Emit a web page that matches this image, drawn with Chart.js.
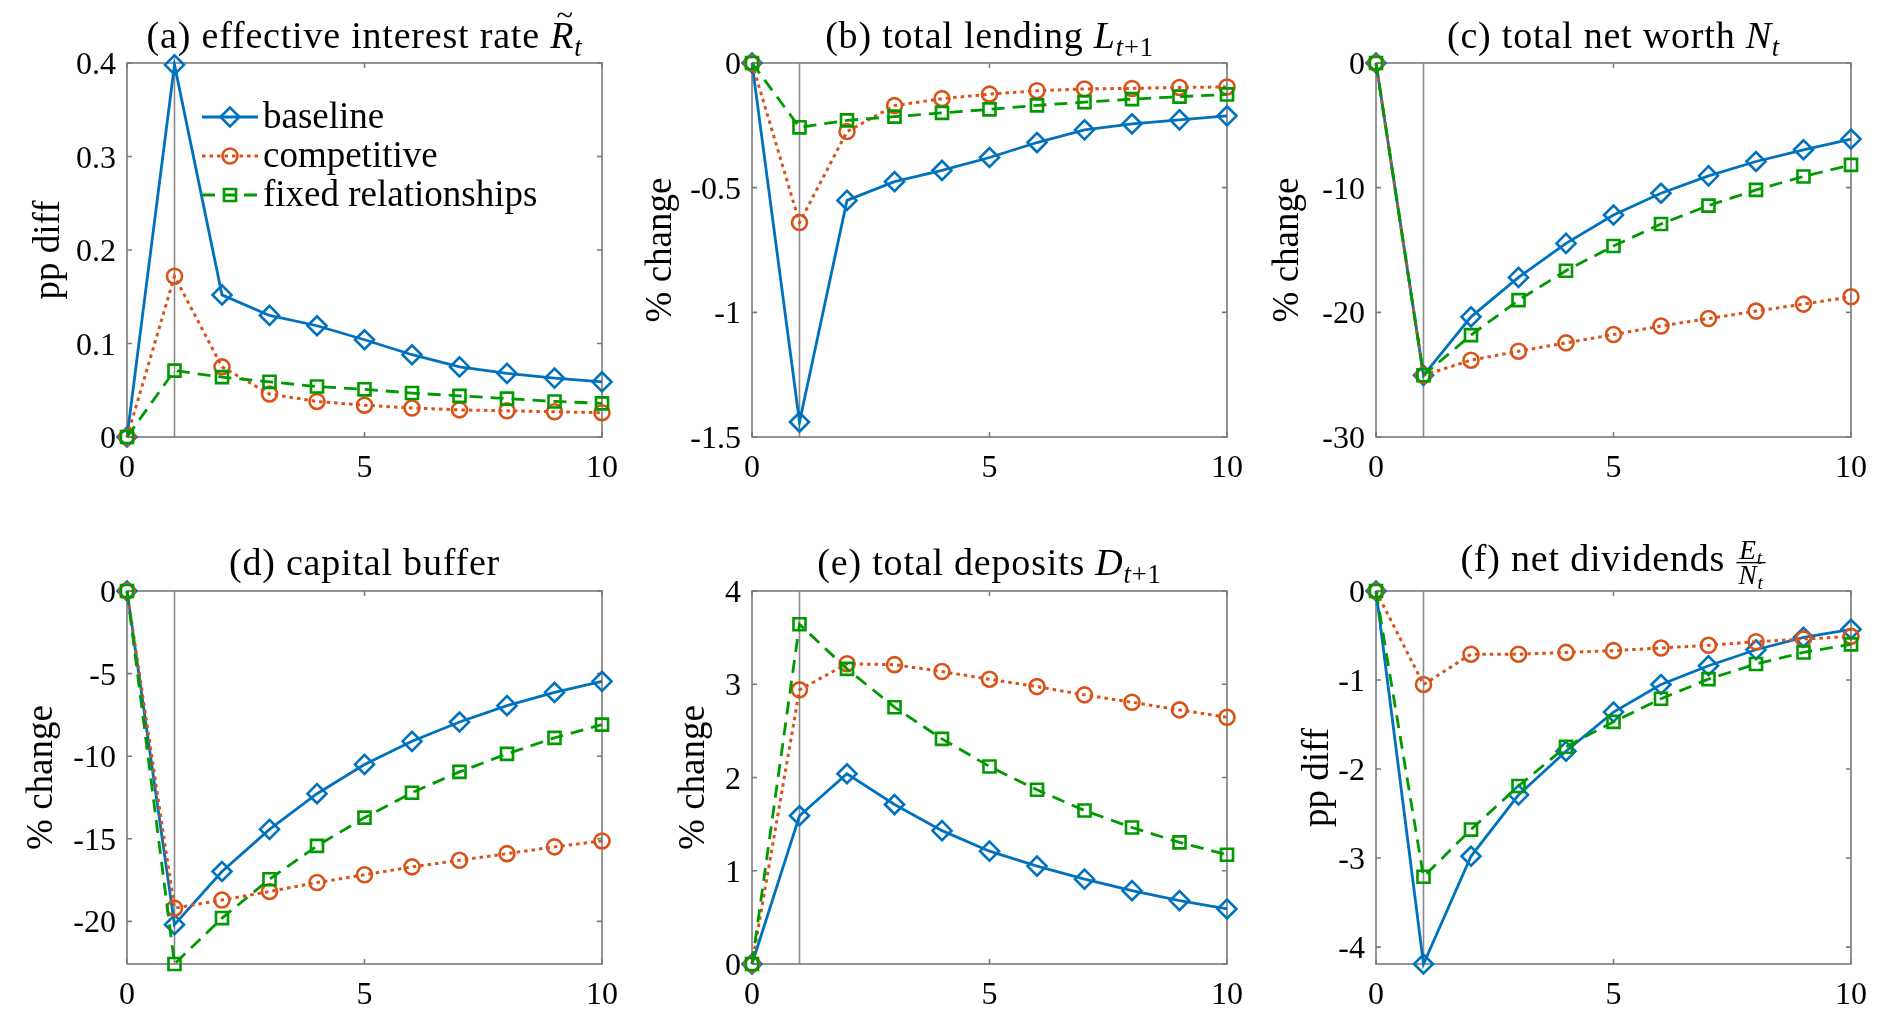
<!DOCTYPE html>
<html>
<head>
<meta charset="utf-8">
<script src="https://cdn.jsdelivr.net/npm/chart.js@4.4.1/dist/chart.umd.min.js"></script>
<style>
  body { margin: 0; background: #fff; width: 1892px; height: 1015px; position: relative; overflow: hidden; }
  canvas { position: absolute; }
</style>
</head>
<body>
<script>
// horizon (quarters after the shock)
const horizon = [0, 1, 2, 3, 4, 5, 6, 7, 8, 9, 10];
const xTicks = [0, 5, 10];
const seriesNames = ['baseline', 'competitive', 'fixed relationships'];

// (a) effective interest rate, pp diff
const rateBaseline = [0, 0.398, 0.152, 0.130, 0.119, 0.104, 0.088, 0.075, 0.068, 0.063, 0.059];
const rateCompetitive = [0, 0.172, 0.075, 0.046, 0.038, 0.034, 0.031, 0.029, 0.028, 0.027, 0.026];
const rateFixed = [0, 0.071, 0.064, 0.059, 0.054, 0.051, 0.047, 0.044, 0.041, 0.038, 0.036];
const rateTicks = [0, 0.1, 0.2, 0.3, 0.4];

// (b) total lending, % change
const lendingBaseline = [0, -1.44, -0.551, -0.476, -0.431, -0.379, -0.319, -0.268, -0.244, -0.228, -0.212];
const lendingCompetitive = [0, -0.640, -0.275, -0.171, -0.143, -0.125, -0.111, -0.104, -0.102, -0.098, -0.096];
const lendingFixed = [0, -0.258, -0.230, -0.215, -0.200, -0.186, -0.170, -0.157, -0.145, -0.135, -0.126];
const lendingTicks = [-1.5, -1, -0.5, 0];

// (c) total net worth, % change
const netWorthBaseline = [0, -25.05, -20.36, -17.2, -14.47, -12.19, -10.45, -9.05, -7.9, -6.96, -6.1];
const netWorthCompetitive = [0, -25.05, -23.84, -23.12, -22.45, -21.78, -21.1, -20.5, -19.9, -19.34, -18.75];
const netWorthFixed = [0, -25.05, -21.83, -19.02, -16.66, -14.68, -12.91, -11.44, -10.18, -9.1, -8.17];
const netWorthTicks = [-30, -20, -10, 0];

// (d) capital buffer, % change
const bufferBaseline = [0, -20.2, -16.98, -14.43, -12.27, -10.5, -9.1, -7.93, -6.94, -6.14, -5.47];
const bufferCompetitive = [0, -19.2, -18.71, -18.19, -17.65, -17.18, -16.7, -16.3, -15.9, -15.49, -15.13];
const bufferFixed = [0, -22.58, -19.8, -17.45, -15.43, -13.72, -12.21, -10.95, -9.86, -8.89, -8.09];
const bufferTicks = [-20, -15, -10, -5, 0];

// (e) total deposits, % change
const depositsBaseline = [0, 1.59, 2.04, 1.71, 1.43, 1.21, 1.05, 0.91, 0.786, 0.68, 0.59];
const depositsCompetitive = [0, 2.94, 3.22, 3.21, 3.136, 3.054, 2.975, 2.886, 2.807, 2.725, 2.646];
const depositsFixed = [0, 3.643, 3.165, 2.754, 2.414, 2.118, 1.868, 1.646, 1.464, 1.304, 1.171];
const depositsTicks = [0, 1, 2, 3, 4];

// (f) net dividends, pp diff
const dividendsBaseline = [0, -4.19, -2.98, -2.29, -1.80, -1.36, -1.05, -0.84, -0.66, -0.52, -0.43];
const dividendsCompetitive = [0, -1.05, -0.71, -0.71, -0.69, -0.67, -0.64, -0.61, -0.57, -0.54, -0.51];
const dividendsFixed = [0, -3.21, -2.68, -2.19, -1.75, -1.47, -1.21, -0.99, -0.82, -0.69, -0.60];
const dividendsTicks = [-4, -3, -2, -1, 0];

const FONT = '"Liberation Serif", "Times New Roman", serif';
const FS = 32;      // tick labels
const LFS = 37;     // axis labels, legend
const TFS = 38;     // titles
const COLORS = ['#0072BD', '#D95319', '#009900'];
const STYLES = ['rectRot', 'circle', 'rect'];
const RADII = [9.5, 7.5, 8.5];
const WIDTHS = [2.8, 3, 2.8];
const DASHES = [[], [3.5, 4], [13, 8]];

Chart.defaults.font.family = FONT;
Chart.defaults.color = '#000';

const panels = [
  { plot: [127, 63, 602, 437], ylabX: 49, yMin: 0, yMax: 0.4, ticks: rateTicks, ylabel: 'pp diff', titleY: 48,
    title: [{ t: '(a) effective interest rate ' }, { t: 'R', it: true, tilde: true }, { t: 't', it: true, sub: true }],
    series: [rateBaseline, rateCompetitive, rateFixed], legend: true },
  { plot: [752, 63, 1227, 437], ylabX: 661, yMin: -1.5, yMax: 0, ticks: lendingTicks, ylabel: '% change', titleY: 48,
    title: [{ t: '(b) total lending ' }, { t: 'L', it: true }, { t: 't', it: true, sub: true }, { t: '+1', sub: true }],
    series: [lendingBaseline, lendingCompetitive, lendingFixed] },
  { plot: [1376, 63, 1851, 437], ylabX: 1288, yMin: -30, yMax: 0, ticks: netWorthTicks, ylabel: '% change', titleY: 48,
    title: [{ t: '(c) total net worth ' }, { t: 'N', it: true }, { t: 't', it: true, sub: true }],
    series: [netWorthBaseline, netWorthCompetitive, netWorthFixed] },
  { plot: [127, 591, 602, 964], ylabX: 42, yMin: -22.58, yMax: 0, ticks: bufferTicks, ylabel: '% change', titleY: 575,
    title: [{ t: '(d) capital buffer' }],
    series: [bufferBaseline, bufferCompetitive, bufferFixed] },
  { plot: [752, 591, 1227, 964], ylabX: 694, yMin: 0, yMax: 4, ticks: depositsTicks, ylabel: '% change', titleY: 575,
    title: [{ t: '(e) total deposits ' }, { t: 'D', it: true }, { t: 't', it: true, sub: true }, { t: '+1', sub: true }],
    series: [depositsBaseline, depositsCompetitive, depositsFixed] },
  { plot: [1376, 591, 1851, 964], ylabX: 1318, yMin: -4.19, yMax: 0, ticks: dividendsTicks, ylabel: 'pp diff', titleY: 571,
    title: [{ t: '(f) net dividends ' }, { frac: [[{ t: 'E', it: true }, { t: 't', it: true, sub: true }], [{ t: 'N', it: true }, { t: 't', it: true, sub: true }]] }],
    series: [dividendsBaseline, dividendsCompetitive, dividendsFixed] }
];

function pieceFont(p, size) { return (p.it ? 'italic ' : '') + size + 'px ' + FONT; }

function runWidth(ctx, run, size) {
  let w = 0;
  run.forEach(p => {
    if (p.frac) {
      w += Math.max(runWidth(ctx, p.frac[0], size * 0.72), runWidth(ctx, p.frac[1], size * 0.72)) + 6;
      return;
    }
    ctx.font = pieceFont(p, p.sub ? size * 0.7 : size);
    w += ctx.measureText(p.t).width;
  });
  return w;
}

function drawRun(ctx, run, x, base, size) {
  run.forEach(p => {
    if (p.frac) {
      const fs = size * 0.72;
      const wn = runWidth(ctx, p.frac[0], fs), wd = runWidth(ctx, p.frac[1], fs);
      const w = Math.max(wn, wd) + 6;
      const axis = base - size * 0.22;
      ctx.fillRect(x + 1, axis - 0.7, w - 2, 1.4);
      drawRun(ctx, p.frac[0], x + (w - wn) / 2, axis - size * 0.1, fs);
      drawRun(ctx, p.frac[1], x + (w - wd) / 2, axis + size * 0.55, fs);
      x += w;
      return;
    }
    const s = p.sub ? size * 0.7 : size;
    const y = p.sub ? base + size * 0.2 : base;
    ctx.font = pieceFont(p, s);
    ctx.fillText(p.t, x, y);
    const w = ctx.measureText(p.t).width;
    if (p.tilde) {
      ctx.font = (s * 0.8) + 'px ' + FONT;
      ctx.textAlign = 'center';
      ctx.fillText('~', x + w * 0.62, y - s * 0.6);
      ctx.textAlign = 'left';
    }
    x += w;
  });
  return x;
}

function marker(ctx, style, r, x, y) {
  ctx.beginPath();
  if (style === 'rectRot') {
    ctx.moveTo(x - r, y); ctx.lineTo(x, y - r); ctx.lineTo(x + r, y); ctx.lineTo(x, y + r); ctx.closePath();
  } else if (style === 'circle') {
    ctx.arc(x, y, r, 0, Math.PI * 2);
  } else {
    const s = r * Math.SQRT1_2;
    ctx.rect(x - s, y - s, 2 * s, 2 * s);
  }
  ctx.stroke();
}

const charts = [];

panels.forEach(p => {
  const [l, t, r, b] = p.plot;
  const padTop = 60, padRight = 30, xh = Math.min(60, 1015 - b);
  const cLeft = Math.round(p.ylabX - 30);
  const cTop = t - padTop;
  const w = r - cLeft + padRight;
  const h = padTop + (b - t) + xh;
  const cv = document.createElement('canvas');
  cv.width = w; cv.height = h;
  cv.style.left = cLeft + 'px'; cv.style.top = cTop + 'px';
  cv.style.width = w + 'px'; cv.style.height = h + 'px';
  document.body.appendChild(cv);

  const frame = {
    id: 'frame',
    beforeDatasetsDraw(chart) {
      const { ctx, chartArea: a, scales: { x, y } } = chart;
      ctx.save();
      const vx = x.getPixelForValue(1);
      ctx.strokeStyle = '#8a8a8a'; ctx.lineWidth = 1.6;
      ctx.beginPath(); ctx.moveTo(vx, a.top); ctx.lineTo(vx, a.bottom); ctx.stroke();
      ctx.strokeStyle = '#7a7a7a'; ctx.lineWidth = 1.6;
      ctx.strokeRect(a.left, a.top, a.right - a.left, a.bottom - a.top);
      ctx.beginPath();
      x.ticks.forEach(tk => {
        const px = x.getPixelForValue(tk.value);
        ctx.moveTo(px, a.bottom); ctx.lineTo(px, a.bottom - 5);
        ctx.moveTo(px, a.top); ctx.lineTo(px, a.top + 5);
      });
      y.ticks.forEach(tk => {
        const py = y.getPixelForValue(tk.value);
        ctx.moveTo(a.left, py); ctx.lineTo(a.left + 5, py);
        ctx.moveTo(a.right, py); ctx.lineTo(a.right - 5, py);
      });
      ctx.stroke();
      ctx.restore();
    },
    afterDraw(chart) {
      const { ctx, chartArea: a, scales: { x, y } } = chart;
      ctx.save();
      ctx.fillStyle = '#000';

      // tick labels from the scales' own ticks
      ctx.font = FS + 'px ' + FONT;
      ctx.textBaseline = 'alphabetic';
      ctx.textAlign = 'center';
      x.ticks.forEach(tk => ctx.fillText(String(tk.value), x.getPixelForValue(tk.value), a.bottom + 40));
      ctx.textAlign = 'right';
      y.ticks.forEach(tk => ctx.fillText(String(tk.value), a.left - 11, y.getPixelForValue(tk.value) + 11));

      // y axis label
      ctx.save();
      ctx.translate(p.ylabX - cLeft, (a.top + a.bottom) / 2);
      ctx.rotate(-Math.PI / 2);
      ctx.font = LFS + 'px ' + FONT;
      ctx.textAlign = 'center';
      ctx.textBaseline = 'middle';
      ctx.fillText(p.ylabel, 0, 0);
      ctx.restore();

      // title
      ctx.textBaseline = 'alphabetic';
      ctx.textAlign = 'left';
      ctx.letterSpacing = '0.8px';
      const tw = runWidth(ctx, p.title, TFS);
      drawRun(ctx, p.title, (a.left + a.right) / 2 - tw / 2, p.titleY - cTop, TFS);
      ctx.letterSpacing = '0px';

      if (p.legend) {
        const rows = [117, 156, 195];
        chart.data.datasets.forEach((ds, k) => {
          const yy = rows[k] - cTop;
          const x1 = 202 - cLeft, x2 = 258 - cLeft, xm = 230 - cLeft;
          ctx.strokeStyle = COLORS[k];
          ctx.lineWidth = WIDTHS[k];
          ctx.setLineDash(DASHES[k]);
          ctx.beginPath(); ctx.moveTo(x1, yy); ctx.lineTo(x2, yy); ctx.stroke();
          ctx.setLineDash([]);
          ctx.lineWidth = 2.6;
          marker(ctx, STYLES[k], RADII[k], xm, yy);
          ctx.fillStyle = '#000';
          ctx.font = LFS + 'px ' + FONT;
          ctx.textBaseline = 'middle';
          ctx.fillText(ds.label, 263 - cLeft, yy + 1);
        });
      }
      ctx.restore();
    }
  };

  charts.push(new Chart(cv.getContext('2d'), {
    type: 'line',
    data: {
      datasets: p.series.map((arr, k) => ({
        label: seriesNames[k],
        data: horizon.map((hx, i) => ({ x: hx, y: arr[i] })),
        borderColor: COLORS[k],
        backgroundColor: 'rgba(0,0,0,0)',
        pointBackgroundColor: 'rgba(0,0,0,0)',
        pointBorderColor: COLORS[k],
        borderWidth: WIDTHS[k],
        pointBorderWidth: 2.6,
        pointStyle: STYLES[k],
        pointRadius: RADII[k],
        borderDash: DASHES[k],
        tension: 0,
        clip: false,
        order: 3 - k
      }))
    },
    options: {
      responsive: false,
      animation: false,
      devicePixelRatio: 1,
      events: [],
      layout: { padding: { top: padTop, right: padRight, left: 0, bottom: 0 } },
      plugins: { legend: { display: false }, tooltip: { enabled: false }, title: { display: false } },
      scales: {
        x: {
          type: 'linear', min: 0, max: 10,
          grid: { display: false }, border: { display: false },
          afterBuildTicks: s => { s.ticks = xTicks.map(v => ({ value: v })); },
          afterFit: s => { s.height = xh; },
          ticks: { display: false }
        },
        y: {
          type: 'linear', min: p.yMin, max: p.yMax,
          grid: { display: false }, border: { display: false },
          afterBuildTicks: s => { s.ticks = p.ticks.map(v => ({ value: v })); },
          afterFit: s => { s.width = l - cLeft; },
          ticks: { display: false }
        }
      }
    },
    plugins: [frame]
  }));
});

// redraw once the faces are surely resolved
Promise.all([
  document.fonts.load('32px "Liberation Serif"'),
  document.fonts.load('italic 32px "Liberation Serif"')
]).then(() => charts.forEach(c => c.update('none')));
</script>
</body>
</html>
